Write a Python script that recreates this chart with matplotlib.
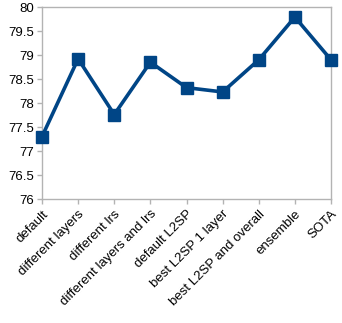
import matplotlib
matplotlib.use("Agg")
import matplotlib.pyplot as plt

categories = ["default", "different layers", "different lrs", "different layers and lrs",
              "default L2SP", "best L2SP 1 layer", "best L2SP and overall", "ensemble", "SOTA"]
values = [77.3, 78.92, 77.76, 78.85, 78.32, 78.23, 78.9, 79.79, 78.9]
yticks = [76, 76.5, 77, 77.5, 78, 78.5, 79, 79.5, 80]
ytick_labels = ["76", "76.5", "77", "77.5", "78", "78.5", "79", "79.5", "80"]

plt.rcParams['font.family'] = ['Liberation Sans', 'DejaVu Sans']

fig = plt.figure(figsize=(3.42, 3.23), dpi=100)
ax = fig.add_axes([42/342, 1 - 199/323, (331-42)/342, (199-7)/323])

x = list(range(len(categories)))
ax.plot(x, values, color="#004586", linewidth=2.6, marker="s", markersize=8.5,
        markerfacecolor="#004586", markeredgecolor="#004586", clip_on=False, zorder=3)

ax.set_xlim(0, len(categories) - 1)
ax.set_ylim(76, 80)
ax.set_yticks(yticks)
ax.set_yticklabels(ytick_labels)
ax.set_xticks(x)
ax.set_xticklabels(categories, rotation=45, ha="right", rotation_mode="anchor")

for s in ax.spines.values():
    s.set_color("#b3b3b3")
    s.set_linewidth(1)
ax.tick_params(axis="both", colors="#b3b3b3", labelcolor="black", labelsize=9.5,
               length=3.5, width=1, direction="out")
ax.tick_params(axis="y", pad=2)
ax.tick_params(axis="x", pad=3)

fig.savefig("out.png", dpi=100)
